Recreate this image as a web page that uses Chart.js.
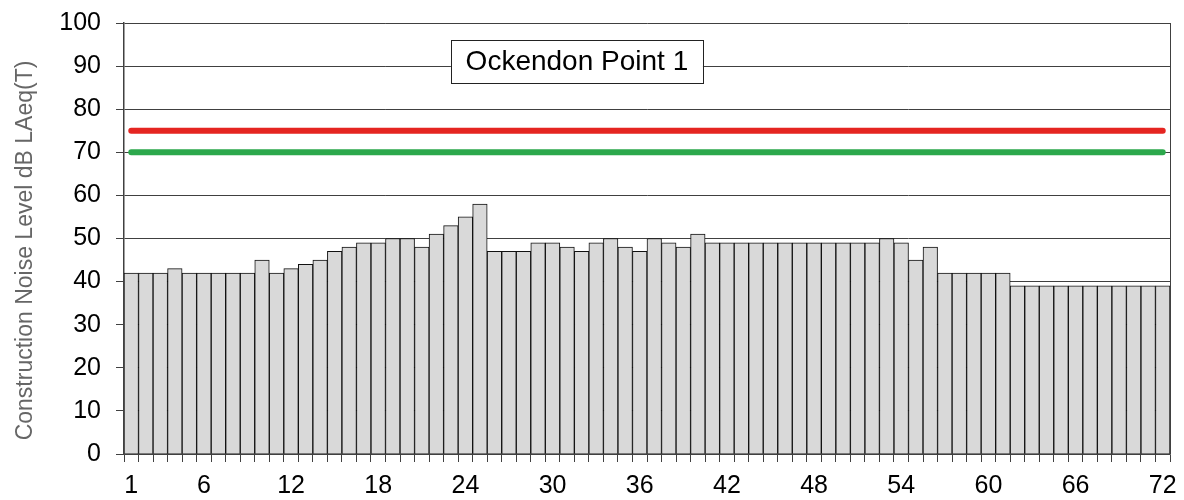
<!DOCTYPE html>
<html>
<head>
<meta charset="utf-8">
<script src="https://cdn.jsdelivr.net/npm/chart.js@4"></script>
<style>
  html, body { margin: 0; padding: 0; background: #fff; }
  #wrap { width: 1184px; height: 500px; }
</style>
</head>
<body>
<div id="wrap"><canvas id="noiseChart" width="1184" height="500"></canvas></div>
<script>
const periods = ['1','2','3','4','5','6','7','8','9','10','11','12','13','14','15','16','17','18',
  '19','20','21','22','23','24','25','26','27','28','29','30','31','32','33','34','35','36',
  '37','38','39','40','41','42','43','44','45','46','47','48','49','50','51','52','53','54',
  '55','56','57','58','59','60','61','62','63','64','65','66','67','68','69','70','71','72'];
const noiseLevels = [42, 42, 42, 43, 42, 42, 42, 42, 42, 45, 42, 43, 44, 45, 47, 48, 49, 49,
  50, 50, 48, 51, 53, 55, 58, 47, 47, 47, 49, 49, 48, 47, 49, 50, 48, 47,
  50, 49, 48, 51, 49, 49, 49, 49, 49, 49, 49, 49, 49, 49, 49, 49, 50, 49,
  45, 48, 42, 42, 42, 42, 42, 39, 39, 39, 39, 39, 39, 39, 39, 39, 39, 39];
const tickLabels = ['1','6','12','18','24','30','36','42','48','54','60','66','72'];
const redLimit = 75;
const greenLimit = 70;
const chartTitle = 'Ockendon Point 1';
const axisTitle = 'Construction Noise Level dB LAeq(T)';

const FONT = '"Liberation Sans", Arial, sans-serif';
const AXIS = '#404040';

// title box, y axis title, right frame line
const extras = {
  id: 'extras',
  afterDraw(chart) {
    const ctx = chart.ctx;
    const a = chart.chartArea;
    ctx.save();
    ctx.strokeStyle = AXIS;
    ctx.lineWidth = 1;
    ctx.beginPath();
    ctx.moveTo(a.right + 0.5, a.top);
    ctx.lineTo(a.right + 0.5, a.bottom);
    ctx.stroke();

    // y axis title, sits a little below the plot middle
    ctx.save();
    ctx.translate(26, (a.top + a.bottom) / 2 + 12);
    ctx.rotate(-Math.PI / 2);
    ctx.fillStyle = '#666';
    ctx.font = '23px ' + FONT;
    ctx.textAlign = 'center';
    ctx.textBaseline = 'middle';
    ctx.fillText(axisTitle, 0, 0);
    ctx.restore();

    const cx = a.left + (a.right - a.left) * 0.433;
    const cy = a.top + 38;
    const w = 252, h = 43;
    ctx.fillStyle = '#fff';
    ctx.fillRect(cx - w / 2, cy - h / 2, w, h);
    ctx.strokeStyle = '#222';
    ctx.strokeRect(Math.round(cx - w / 2) + 0.5, Math.round(cy - h / 2) + 0.5, w, h);
    ctx.fillStyle = '#000';
    ctx.font = '28px ' + FONT;
    ctx.textAlign = 'center';
    ctx.textBaseline = 'middle';
    ctx.fillText(chartTitle, cx, cy + 1);
    ctx.restore();
  }
};

const ctx = document.getElementById('noiseChart').getContext('2d');
new Chart(ctx, {
  type: 'bar',
  data: {
    labels: periods,
    datasets: [
      {
        type: 'line',
        data: [{ x: periods[0], y: redLimit }, { x: periods[periods.length - 1], y: redLimit }],
        borderColor: '#e52521',
        borderWidth: 6,
        borderCapStyle: 'round',
        pointRadius: 0
      },
      {
        type: 'line',
        data: [{ x: periods[0], y: greenLimit }, { x: periods[periods.length - 1], y: greenLimit }],
        borderColor: '#2ca84c',
        borderWidth: 6,
        borderCapStyle: 'round',
        pointRadius: 0
      },
      {
        data: noiseLevels,
        backgroundColor: '#d9d9d9',
        borderColor: '#111',
        borderWidth: 1,
        barPercentage: 1,
        categoryPercentage: 1
      }
    ]
  },
  plugins: [extras],
  options: {
    responsive: false,
    animation: false,
    layout: { padding: { top: 23, right: 14, left: 0, bottom: 0 } },
    plugins: {
      legend: { display: false },
      tooltip: { enabled: false }
    },
    scales: {
      x: {
        offset: true,
        grid: { offset: true, drawOnChartArea: false, tickLength: 8, color: AXIS },
        border: { color: AXIS, width: 1.5 },
        ticks: {
          autoSkip: false,
          maxRotation: 0,
          padding: 9,
          color: '#000',
          font: { family: FONT, size: 25 },
          callback: function (value) {
            const lab = this.getLabelForValue(value);
            return tickLabels.includes(lab) ? lab : '';
          }
        },
        afterFit: scale => {
          scale.height = 46;
          scale.paddingLeft = 0;
          scale.paddingRight = 0;
        }
      },
      y: {
        min: 0,
        max: 100,
        ticks: {
          stepSize: 10,
          padding: 15,
          color: '#000',
          font: { family: FONT, size: 25 }
        },
        grid: { color: AXIS, tickLength: 8 },
        border: { color: AXIS, width: 1.5 },
        afterFit: scale => {
          scale.width = 124;
          scale.paddingTop = 0;
          scale.paddingBottom = 0;
        }
      }
    }
  }
});
</script>
</body>
</html>
